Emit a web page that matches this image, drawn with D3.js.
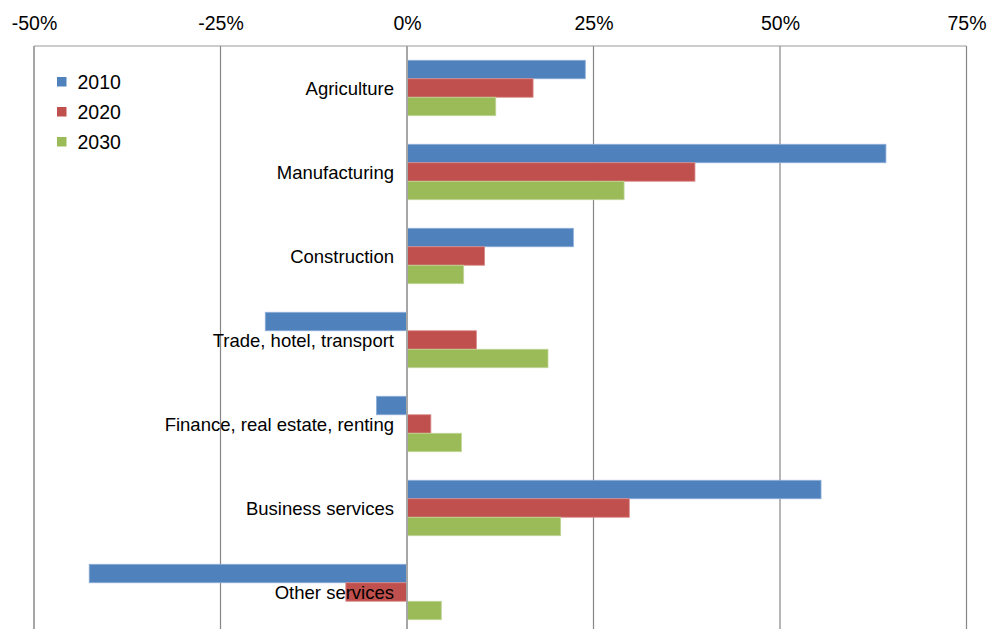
<!DOCTYPE html>
<html>
<head>
<meta charset="utf-8">
<script src="https://cdn.jsdelivr.net/npm/d3@7"></script>
<style>
  html, body { margin: 0; padding: 0; background: #fff; }
  svg { display: block; font-family: "Liberation Sans", Arial, sans-serif; }
</style>
</head>
<body>
<svg id="chart" width="988" height="629"></svg>
<script>
const categories = ["Agriculture", "Manufacturing", "Construction", "Trade, hotel, transport",
  "Finance, real estate, renting", "Business services", "Other services"];
const seriesNames = ["2010", "2020", "2030"];
const values2010 = [23.9, 64.2, 22.3, -19.0, -4.1, 55.5, -42.6];
const values2020 = [16.9, 38.6, 10.4, 9.3, 3.2, 29.8, -8.2];
const values2030 = [11.9, 29.1, 7.6, 18.9, 7.3, 20.6, 4.6];
const tickValues = [-50, -25, 0, 25, 50, 75];
const colors = ["#4F81BD", "#C0504D", "#9BBB59"];
const strokes = ["#8DAFD8", "#D88A88", "#C2D69A"];

const seriesValues = [values2010, values2020, values2030];
const svg = d3.select("#chart");

const pLeft = 34, pRight = 966.5, pTop = 46, pBottom = 634;
const x = d3.scaleLinear().domain([-50, 75]).range([pLeft, pRight]);
const y = d3.scaleBand().domain(categories).range([pTop, pBottom]).paddingInner(0.34).paddingOuter(0.17);
const ys = d3.scaleBand().domain(seriesNames).range([0, y.bandwidth()]);

// gridlines
svg.append("g").selectAll("line").data(tickValues.filter(v => v !== 0 && v !== -50)).join("line")
  .attr("x1", d => x(d)).attr("x2", d => x(d))
  .attr("y1", pTop).attr("y2", 629)
  .attr("stroke", "#868686").attr("stroke-width", 1.2);

// top border
svg.append("line").attr("x1", pLeft).attr("x2", pRight).attr("y1", pTop).attr("y2", pTop)
  .attr("stroke", "#9a9a9a").attr("stroke-width", 1.2);
// left border
svg.append("line").attr("x1", x(-50)).attr("x2", x(-50)).attr("y1", pTop).attr("y2", 629)
  .attr("stroke", "#a6a6a6").attr("stroke-width", 2);

// bars
seriesNames.forEach((s, i) => {
  svg.append("g").selectAll("rect").data(categories).join("rect")
    .attr("x", (c, j) => x(Math.min(0, seriesValues[i][j])))
    .attr("width", (c, j) => Math.abs(x(seriesValues[i][j]) - x(0)))
    .attr("y", c => y(c) + ys(s))
    .attr("height", ys.bandwidth())
    .attr("fill", colors[i])
    .attr("stroke", strokes[i]).attr("stroke-width", 0.8);
});

// zero axis line
svg.append("line").attr("x1", x(0)).attr("x2", x(0)).attr("y1", pTop).attr("y2", 629)
  .attr("stroke", "#a6a6a6").attr("stroke-width", 2);

// top axis labels
const axis = d3.axisTop(x).tickValues(tickValues).tickSize(0).tickPadding(0)
  .tickFormat(d => d + "%");
const ax = svg.append("g").attr("transform", `translate(0,29.5)`).call(axis);
ax.select(".domain").remove();
ax.selectAll("text").attr("font-size", "19.5px").attr("fill", "#000")
  .attr("font-family", "'Liberation Sans', Arial, sans-serif").attr("dy", null);

// category labels
svg.append("g").selectAll("text").data(categories).join("text")
  .attr("x", 394)
  .attr("y", c => y(c) + y.bandwidth() / 2 + 7)
  .attr("text-anchor", "end")
  .attr("font-size", "18.5px").attr("fill", "#000")
  .text(c => c);

// legend
const lg = svg.append("g").selectAll("g").data(seriesNames).join("g")
  .attr("transform", (d, i) => `translate(57,${77 + i * 30})`);
lg.append("rect").attr("width", 9.5).attr("height", 9.5).attr("fill", (d, i) => colors[i]);
lg.append("text").attr("x", 20.5).attr("y", 11.5).attr("font-size", "19.5px").attr("fill", "#000").text(d => d);
</script>
</body>
</html>
